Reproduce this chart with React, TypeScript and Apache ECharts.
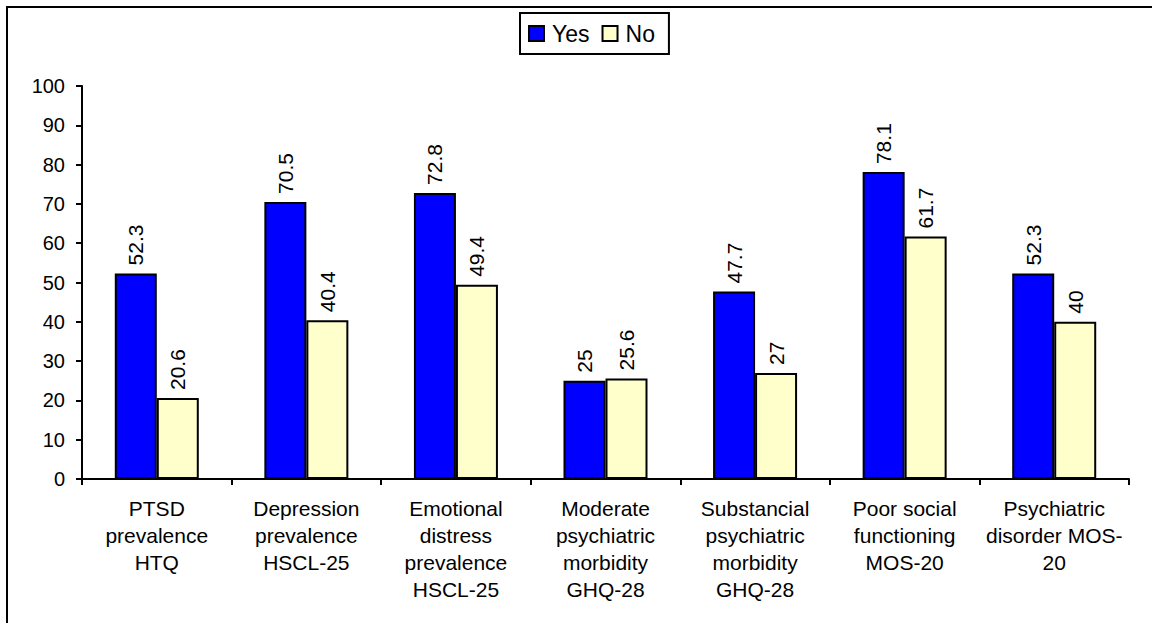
import React, { useEffect, useRef } from "react";
import * as echarts from "echarts";

const categories = [
  "PTSD\nprevalence\nHTQ",
  "Depression\nprevalence\nHSCL-25",
  "Emotional\ndistress\nprevalence\nHSCL-25",
  "Moderate\npsychiatric\nmorbidity\nGHQ-28",
  "Substancial\npsychiatric\nmorbidity\nGHQ-28",
  "Poor social\nfunctioning\nMOS-20",
  "Psychiatric\ndisorder MOS-\n20",
];
const yesValues = [52.3, 70.5, 72.8, 25, 47.7, 78.1, 52.3];
const noValues = [20.6, 40.4, 49.4, 25.6, 27, 61.7, 40];
const yTicks = { min: 0, max: 100, interval: 10 };

const FONT = "Arial, 'Liberation Sans', sans-serif";

export default function App() {
  const ref = useRef<HTMLDivElement>(null);
  useEffect(() => {
    if (!ref.current) return;
    const chart = echarts.init(ref.current, null, { renderer: "svg" });
    const label = {
      show: true,
      position: "top",
      rotate: 90,
      align: "left",
      verticalAlign: "middle",
      distance: 8,
      color: "#000",
      fontSize: 21,
      fontFamily: FONT,
    };
    chart.setOption({
      animation: false,
      backgroundColor: "#fff",
      textStyle: { fontFamily: FONT },
      graphic: [
        {
          type: "rect",
          shape: { x: 7, y: 7, width: 1300, height: 800 },
          style: { fill: "none", stroke: "#000", lineWidth: 2 },
          z: 100,
        },
      ],
      legend: {
        left: 520,
        top: 13,
        orient: "horizontal",
        padding: [9, 14, 9, 8],
        itemGap: 12,
        itemWidth: 15,
        itemHeight: 15,
        itemStyle: { borderColor: "#000", borderWidth: 2 },
        borderColor: "#000",
        borderWidth: 2,
        icon: "rect",
        textStyle: { fontSize: 23, color: "#000", fontFamily: FONT, padding: [0, 0, 0, 3] },
        data: ["Yes", "No"],
      },
      grid: { left: 82, right: 23, top: 86, bottom: 144, containLabel: false },
      xAxis: {
        type: "category",
        data: categories,
        axisLine: { lineStyle: { color: "#000", width: 2 } },
        axisTick: { show: true, length: 6, lineStyle: { color: "#000", width: 2 } },
        axisLabel: {
          interval: 0,
          margin: 16,
          color: "#000",
          fontSize: 21,
          lineHeight: 27,
          fontFamily: FONT,
        },
      },
      yAxis: {
        type: "value",
        min: yTicks.min,
        max: yTicks.max,
        interval: yTicks.interval,
        splitLine: { show: false },
        axisLine: { show: true, lineStyle: { color: "#000", width: 2 } },
        axisTick: { show: true, length: 6, lineStyle: { color: "#000", width: 2 } },
        axisLabel: { margin: 17, color: "#000", fontSize: 20, fontFamily: FONT },
      },
      series: [
        {
          name: "Yes",
          type: "bar",
          data: yesValues,
          barWidth: 42,
          barGap: "0%",
          itemStyle: { color: "#0000FF", borderColor: "#000", borderWidth: 2 },
          label,
        },
        {
          name: "No",
          type: "bar",
          data: noValues,
          barWidth: 42,
          barGap: "0%",
          itemStyle: { color: "#FFFFCC", borderColor: "#000", borderWidth: 2 },
          label,
        },
      ],
    });
    return () => chart.dispose();
  }, []);
  return (
    <div
      ref={ref}
      style={{ position: "absolute", left: 0, top: 0, width: 1152, height: 623 }}
    />
  );
}
